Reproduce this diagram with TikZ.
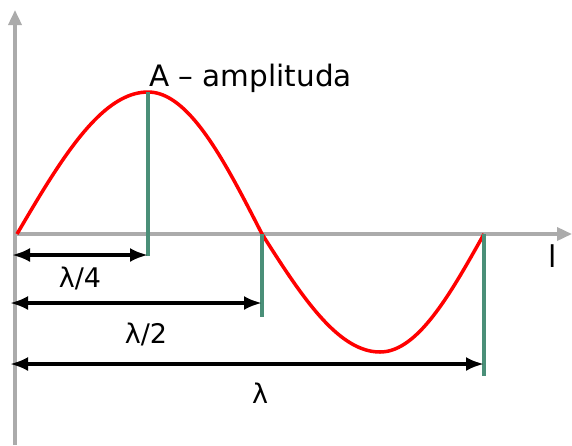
\documentclass[tikz,border=0pt]{standalone}
\usepackage{fontspec}
\setmainfont{DejaVu Sans}
\usetikzlibrary{arrows.meta, positioning, calc}

\begin{document}
\begin{tikzpicture}[
        x=1pt, y=-1pt,
        axis/.style={line width=3.5pt, draw=black!33, -{Triangle[length=15pt, width=13pt]}},
        wave/.style={line width=3.5pt, draw=red, line join=round},
        marker/.style={line width=3.5pt, draw=tealgreen},
        dim/.style={line width=3.5pt, draw=black, {Latex[length=18pt, width=14pt]}-{Latex[length=18pt, width=14pt]}},
        lbl/.style={font=\fontsize{27}{30}\selectfont, inner sep=0pt, anchor=base}
    ]
        \definecolor{tealgreen}{RGB}{74,143,120}
        \useasboundingbox (0,0) rectangle (572,445);
        % key points of the wave
        \coordinate (origin) at (16,234);
        \coordinate (peak) at (148,92);
        \coordinate (half) at (262,234);
        \coordinate (trough) at (380,352);
        \coordinate (full) at (484,234);
        % axes
        \draw[axis] (15,445) -- (15,10);
        \draw[axis] (15,234) -- (572,234);
        % wave
        \draw[wave] plot[domain=17:148, samples=40] (\x, {234-142*sin(90*(\x-17)/131)})
            -- plot[domain=148:262, samples=40] (\x, {234-142*cos(90*(\x-148)/114)})
            -- plot[domain=262:380, samples=40] (\x, {234+118*sin(90*(\x-262)/118)})
            -- plot[domain=380:484, samples=40] (\x, {234+118*cos(90*(\x-380)/104)});
        % markers
        \draw[marker] (peak) -- ++(0,164) coordinate (qend);
        \draw[marker] (half) -- ++(0,83) coordinate (hend);
        \draw[marker] (full) -- ++(0,142) coordinate (fend);
        % dimension lines
        \coordinate (q1) at (12,255);
        \coordinate (h1) at (10,303);
        \coordinate (f1) at (10,364);
        \draw[dim] (q1) -- (q1 -| qend);
        \draw[dim] (h1) -- (h1 -| hend);
        \draw[dim] (f1) -- (f1 -| fend);
        % labels
        \node[lbl] (lquarter) at (80,287) {λ/4};
        \node[lbl] (lhalf) at (146,343) {λ/2};
        \node[lbl] (lfull) at (260,403) {λ};
        \node[lbl, anchor=base west, font=\fontsize{29.5}{32}\selectfont] (lamp) at (149,86) {A \textendash{} amplituda};
        \node[lbl, anchor=base, font=\fontsize{30}{32}\selectfont] (laxis) at (553,267) {l};
    \end{tikzpicture}
\end{document}
